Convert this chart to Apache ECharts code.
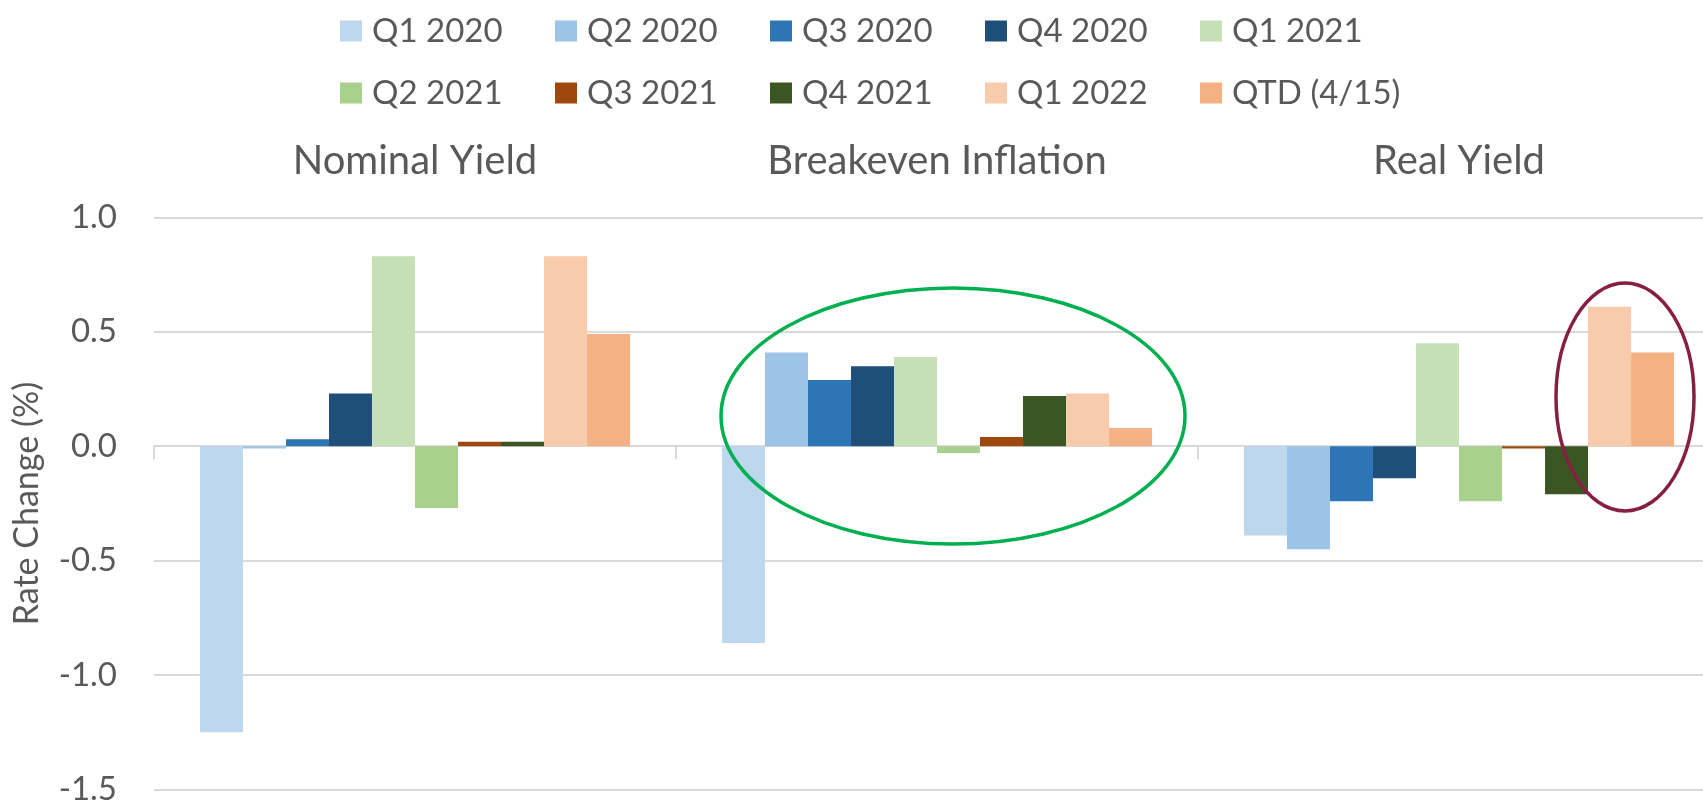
<!DOCTYPE html>
<html>
<head>
<meta charset="utf-8">
<script src="https://cdn.jsdelivr.net/npm/echarts@6/dist/echarts.min.js"></script>
<style>
  html, body { margin: 0; padding: 0; background: #fff; overflow: hidden; }
  /* plot runs past the right edge of the window, like the cropped original */
  #chart { width: 1720px; height: 806px; }
</style>
</head>
<body>
<div id="chart"></div>
<script>
const categories = ['Nominal Yield', 'Breakeven Inflation', 'Real Yield'];
const quarters = ['Q1 2020', 'Q2 2020', 'Q3 2020', 'Q4 2020', 'Q1 2021',
  'Q2 2021', 'Q3 2021', 'Q4 2021', 'Q1 2022', 'QTD (4/15)'];
// rate change (%) per quarter, one array per category
const nominalYield = [-1.25, -0.01, 0.03, 0.23, 0.83, -0.27, 0.02, 0.02, 0.83, 0.49];
const breakevenInflation = [-0.86, 0.41, 0.29, 0.35, 0.39, -0.03, 0.04, 0.22, 0.23, 0.08];
const realYield = [-0.39, -0.45, -0.24, -0.14, 0.45, -0.24, -0.01, -0.21, 0.61, 0.41];
const yTicks = [-1.5, -1.0, -0.5, 0.0, 0.5, 1.0];

const colors = ['#BDD7EE', '#9DC3E6', '#2E75B6', '#1F4E79', '#C5E0B4',
  '#A9D18E', '#9E480E', '#3B5623', '#F8CBAD', '#F4B183'];

const font = 'Lato, "Open Sans", sans-serif';
const textColor = '#595959';
const gridColor = '#D9D9D9';

const chart = echarts.init(document.getElementById('chart'));

const series = quarters.map((q, i) => ({
  name: q,
  type: 'bar',
  xAxisIndex: 0,
  yAxisIndex: 0,
  data: [nominalYield[i], breakevenInflation[i], realYield[i]],
  barGap: '0%',
  barCategoryGap: '17.6%',
  itemStyle: { color: colors[i] },
}));

const option = {
  animation: false,
  color: colors,
  legend: {
    data: quarters,
    left: 335,
    top: 6,
    width: 1085,
    icon: 'rect',
    itemWidth: 22,
    itemHeight: 21,
    itemGap: 22,
    textStyle: {
      color: textColor,
      fontFamily: font,
      fontSize: 33,
      lineHeight: 40,
      width: 161,
      padding: [0, 0, 0, 5],
    },
  },
  grid: {
    left: 154,
    top: 217.4,
    width: 1566,
    height: 575,
    containLabel: false,
  },
  xAxis: [
    {
      type: 'category',
      data: categories,
      axisLine: { show: true, onZero: true, lineStyle: { color: gridColor, width: 2 } },
      axisTick: { show: true, length: 13, lineStyle: { color: gridColor, width: 2 } },
      axisLabel: { show: false },
    },
    {
      // category names sit above the plot
      type: 'category',
      position: 'top',
      data: categories,
      axisLine: { show: false, onZero: false },
      axisTick: { show: false },
      axisLabel: {
        color: textColor,
        fontFamily: font,
        fontSize: 40,
        margin: 36,
      },
    },
  ],
  yAxis: {
    type: 'value',
    min: yTicks[0],
    max: yTicks[yTicks.length - 1],
    interval: 0.5,
    name: 'Rate Change (%)',
    nameLocation: 'middle',
    nameGap: 110,
    nameTextStyle: { color: textColor, fontFamily: font, fontSize: 34 },
    axisLine: { show: false },
    axisTick: { show: false },
    axisLabel: {
      color: textColor,
      fontFamily: font,
      fontSize: 33,
      margin: 37,
      formatter: v => v.toFixed(1),
    },
    splitLine: { lineStyle: { color: gridColor, width: 2 } },
  },
  series: series,
  graphic: [
    {
      type: 'ellipse',
      shape: { cx: 953, cy: 416, rx: 232, ry: 128 },
      style: { fill: 'none', stroke: '#00B050', lineWidth: 3.5 },
      z: 100,
    },
    {
      type: 'ellipse',
      shape: { cx: 1625, cy: 397, rx: 69, ry: 114 },
      style: { fill: 'none', stroke: '#861F41', lineWidth: 3.5 },
      z: 100,
    },
  ],
};

chart.setOption(option);
</script>
</body>
</html>
